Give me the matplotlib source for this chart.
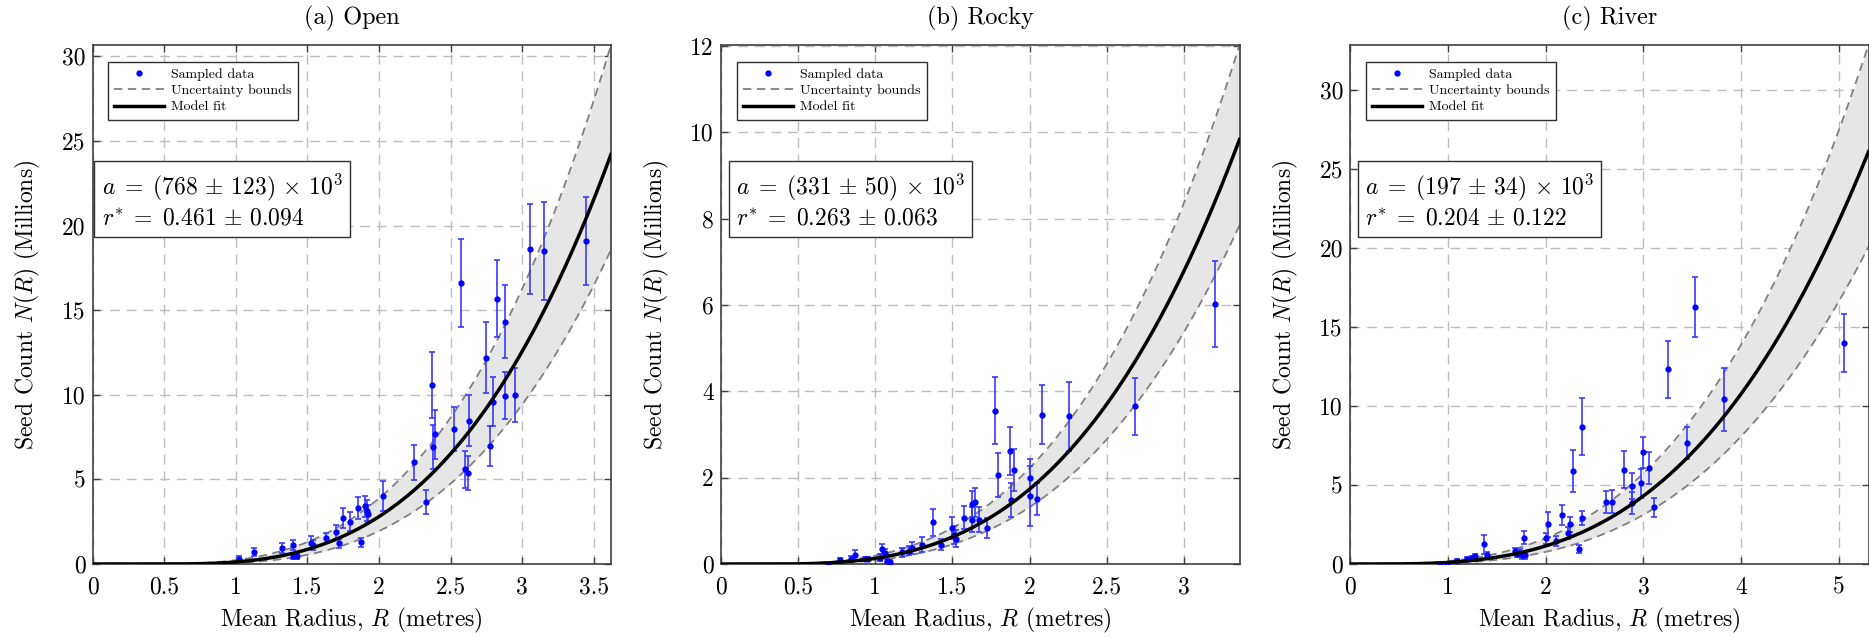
import numpy as np
import matplotlib
matplotlib.use('Agg')
import matplotlib.pyplot as plt
from matplotlib.lines import Line2D
from matplotlib.ticker import FuncFormatter, MultipleLocator

plt.rcParams['font.family'] = 'serif'
plt.rcParams['font.serif'] = ['cmr10']
plt.rcParams['mathtext.fontset'] = 'cm'
plt.rcParams['axes.formatter.use_mathtext'] = True
plt.rcParams['lines.scale_dashes'] = False

titles = ['(a) Open', '(b) Rocky', '(c) River']
a_fit = [768, 331, 197]      # x 10^3
a_err = [123, 50, 34]
r_fit = [0.461, 0.263, 0.204]
r_err = [0.094, 0.063, 0.122]
x_max = [3.62, 3.36, 5.30]
x_step = [0.5, 0.5, 1]
y_step = [5, 2, 5]

open_R = [1.02, 1.127, 1.322, 1.397, 1.40, 1.43, 1.528, 1.54, 1.627, 1.70, 1.724, 1.752, 1.80,
          1.852, 1.877, 1.905, 1.917, 1.925, 2.026, 2.248, 2.326, 2.373, 2.378, 2.394, 2.527,
          2.574, 2.602, 2.621, 2.626, 2.748, 2.774, 2.798, 2.826, 2.881, 2.881, 2.952, 3.051,
          3.150, 3.448]
open_N = [0.31, 0.71, 0.96, 1.12, 0.45, 0.45, 1.26, 1.1, 1.53, 1.9, 1.22, 2.71, 2.5,
          3.32, 1.28, 3.4, 3.16, 2.95, 4.03, 6.01, 3.67, 10.55, 6.93, 7.68, 7.99,
          16.6, 5.6, 5.36, 8.46, 12.2, 6.97, 9.58, 15.69, 14.32, 9.94, 9.98, 18.6,
          18.5, 19.1]
open_E = [0.15, 0.25, 0.3, 0.3, 0.15, 0.15, 0.4, 0.3, 0.3, 0.4, 0.25, 0.6, 0.55,
          0.65, 0.25, 0.6, 0.6, 0.55, 0.9, 1.05, 0.7, 1.95, 1.3, 1.45, 1.3,
          2.6, 1.1, 1.0, 1.5, 2.1, 1.2, 1.45, 2.25, 2.15, 1.4, 1.6, 2.65,
          2.9, 2.6]

rocky_R = [0.695, 0.774, 0.844, 0.871, 0.932, 0.95, 1.03, 1.046, 1.06, 1.075, 1.096, 1.173,
           1.221, 1.239, 1.30, 1.371, 1.425, 1.498, 1.513, 1.524, 1.572, 1.625, 1.627, 1.649,
           1.673, 1.726, 1.776, 1.798, 1.875, 1.877, 1.897, 2.002, 2.002, 2.05, 2.077, 2.252,
           2.68, 3.204]
rocky_N = [0.0, 0.1, 0.11, 0.21, 0.11, 0.11, 0.15, 0.35, 0.25, 0.07, 0.05, 0.27,
           0.31, 0.37, 0.45, 0.97, 0.45, 0.83, 0.67, 0.59, 1.07, 1.03, 1.39, 1.43,
           1.03, 0.83, 3.55, 2.06, 2.62, 1.48, 2.17, 2.0, 1.58, 1.5, 3.46, 3.42,
           3.65, 6.02]
rocky_E = [0.02, 0.04, 0.08, 0.12, 0.05, 0.05, 0.08, 0.12, 0.1, 0.05, 0.05, 0.1,
           0.1, 0.13, 0.18, 0.31, 0.12, 0.25, 0.2, 0.2, 0.27, 0.29, 0.31, 0.33,
           0.29, 0.23, 0.78, 0.5, 0.55, 0.4, 0.49, 0.43, 0.7, 0.37, 0.69, 0.8,
           0.66, 1.0]

river_R = [0.924, 0.993, 1.097, 1.2, 1.252, 1.276, 1.372, 1.397, 1.683, 1.707, 1.741, 1.759,
           1.776, 1.786, 2.007, 2.028, 2.103, 2.172, 2.224, 2.252, 2.276, 2.345, 2.372, 2.372,
           2.621, 2.679, 2.8, 2.879, 2.879, 2.976, 3.0, 3.052, 3.103, 3.252, 3.448, 3.524,
           3.821, 5.052]
river_N = [0.0, 0.0, 0.22, 0.33, 0.37, 0.48, 1.24, 0.54, 0.8, 0.65, 0.72, 0.54,
           1.67, 0.54, 1.63, 2.5, 1.45, 3.1, 1.95, 2.5, 5.86, 0.93, 8.68, 2.93,
           3.91, 3.95, 5.97, 4.93, 3.84, 5.1, 7.06, 6.08, 3.58, 12.31, 7.66, 16.28,
           10.42, 13.96]
river_E = [0.03, 0.03, 0.1, 0.12, 0.12, 0.15, 0.6, 0.2, 0.2, 0.2, 0.2, 0.2,
           0.4, 0.2, 0.35, 0.8, 0.3, 0.65, 0.4, 0.45, 1.33, 0.25, 1.8, 0.45,
           0.7, 0.75, 1.15, 0.8, 0.7, 0.9, 1.0, 1.0, 0.6, 1.8, 1.0, 1.9,
           2.0, 1.85]

datasets = [(open_R, open_N, open_E), (rocky_R, rocky_N, rocky_E), (river_R, river_N, river_E)]


def model(R, a, r):
    return a * 1e3 * np.clip(R - r, 0, None) ** 3 / 1e6


fig = plt.figure(figsize=(18.69, 6.38), dpi=100)
W, H = 1869.0, 638.0
lefts = [92.5, 721, 1350]
ax_w, ax_top, ax_bot = 518.5, 45, 564
ax_h = ax_bot - ax_top

fmt = FuncFormatter(lambda v, p: ('%g' % round(v, 6)))

for i in range(3):
    ax = fig.add_axes([lefts[i] / W, (H - ax_bot) / H, ax_w / W, ax_h / H])
    R, N, E = datasets[i]
    xs = np.linspace(0, x_max[i], 400)
    fit = model(xs, a_fit[i], r_fit[i])
    up = model(xs, a_fit[i] + a_err[i], r_fit[i] - r_err[i])
    lo = model(xs, a_fit[i] - a_err[i], r_fit[i] + r_err[i])
    ax.fill_between(xs, lo, up, color='#e6e6e6', lw=0, zorder=1)
    ax.plot(xs, up, color='#808080', lw=1.3, dashes=(6, 4), zorder=2)
    ax.plot(xs, lo, color='#808080', lw=1.3, dashes=(6, 4), zorder=2)
    ax.errorbar(R, N, yerr=E, fmt='o', color='blue', ms=3.5, ecolor='#3a3aff',
                elinewidth=1.2, capsize=2.2, capthick=1.2, zorder=3)
    ax.plot(xs, fit, color='black', lw=2.5, zorder=4)

    ax.set_xlim(0, x_max[i])
    ax.set_ylim(0, up[-1])
    ax.xaxis.set_major_locator(MultipleLocator(x_step[i]))
    ax.yaxis.set_major_locator(MultipleLocator(y_step[i]))
    ax.xaxis.set_major_formatter(fmt)
    ax.yaxis.set_major_formatter(fmt)
    ax.tick_params(direction='in', top=True, right=True, length=5, width=1,
                   color='#404040', labelsize=17)
    ax.tick_params(axis='x', pad=9)
    ax.tick_params(axis='y', pad=5)
    ax.grid(True, color='#bdbdbd', lw=1, dashes=(7, 5))
    ax.set_axisbelow(True)
    for s in ax.spines.values():
        s.set_color('#404040')
        s.set_linewidth(1.2)

    ax.text(0.5, 1 + 27 / ax_h, titles[i], transform=ax.transAxes, ha='center',
            va='center', fontsize=17.5)
    ax.set_xlabel(r'Mean Radius, $R$ (metres)', fontsize=17)
    ax.xaxis.label.set_verticalalignment('center')
    ax.xaxis.set_label_coords(0.5, -56 / ax_h)
    ax.set_ylabel(r'Seed Count $N(R)$ (Millions)', fontsize=17)
    ax.yaxis.label.set_verticalalignment('center')
    ax.yaxis.set_label_coords(-0.125, 0.5)

    handles = [Line2D([], [], marker='o', color='blue', ls='none', ms=3.5),
               Line2D([], [], color='#808080', lw=1.3, dashes=(6, 4)),
               Line2D([], [], color='black', lw=2.5)]
    leg = ax.legend(handles, ['Sampled data', 'Uncertainty bounds', 'Model fit'],
                    loc='upper left', bbox_to_anchor=(15.5 / ax_w, 1 - 17 / ax_h),
                    borderaxespad=0, fontsize=10, fancybox=False, framealpha=1,
                    edgecolor='#303030', handlelength=3.6, handletextpad=0.5,
                    labelspacing=0.25, borderpad=0.45)
    leg.get_frame().set_linewidth(1.0)
    leg.set_zorder(6)

    txt = (r'$a \;=\; (%d \,\pm\, %d) \,\times\, 10^3$' % (a_fit[i], a_err[i]) + '\n' +
           r'$r^{*} \;=\; %.3f \,\pm\, %.3f$' % (r_fit[i], r_err[i]))
    ax.text(0.25, 0.70, txt, transform=ax.transAxes, ha='center', va='center',
            multialignment='left', fontsize=17, zorder=6, linespacing=1.25,
            bbox=dict(boxstyle='square,pad=0.3', fc='white', ec='#303030', lw=1.0))

fig.savefig('out.png', dpi=100)
